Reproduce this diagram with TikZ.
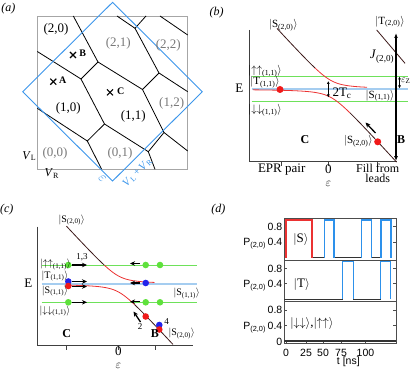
\documentclass[tikz,border=0pt]{standalone}
\usepackage{fontspec}
\setmainfont{Liberation Serif}
\newfontfamily\plotfont{Liberation Sans}
\usetikzlibrary{arrows.meta,calc}
\definecolor{DiagBlue}{RGB}{60,150,235}
\definecolor{LevelGreen}{RGB}{110,225,90}
\definecolor{LevelBlue}{RGB}{165,205,240}
\definecolor{CurveRed}{RGB}{235,50,50}
\definecolor{DotRed}{RGB}{240,25,25}
\definecolor{DotBlue}{RGB}{35,35,235}
\definecolor{DotGreen}{RGB}{95,225,60}
\definecolor{LineDark}{RGB}{60,25,25}
\definecolor{StateGray}{RGB}{120,120,120}
\definecolor{PulseBlue}{RGB}{45,145,235}
\newcommand{\kt}[2]{$|$#1\textsubscript{(#2)}$\rangle$}
\newcommand{\xmark}[2]{%
    \draw[line width=1.1pt] ({#1-3},{#2-3})--({#1+3},{#2+3});
    \draw[line width=1.1pt] ({#1-3},{#2+3})--({#1+3},{#2-3});
}
\newcommand{\levelset}[5]{%
    \draw[LevelGreen,line width=0.8pt] (#1,#3)--(#2,#3);
    \draw[LevelGreen,line width=0.8pt] (#1,#5)--(#2,#5);
    \draw[LevelBlue,line width=2.4pt] (#1,#4)--(#2,#4);
}

\begin{document}
\begin{tikzpicture}[x=1pt,y=-1pt,
    declare function={
        bup(\x)=0.55*\x-sqrt((0.55*\x)^2+72.25);
        blo(\x)=0.55*\x+sqrt((0.55*\x)^2+72.25);
        cup(\x)=0.545*\x-sqrt((0.545*\x)^2+64);
        clo(\x)=0.545*\x+sqrt((0.545*\x)^2+64);},
    panel/.style={font=\fontsize{12}{14}\selectfont\itshape,inner sep=0pt},
    cell/.style={font=\fontsize{13}{15}\selectfont,inner sep=0pt},
    ghost/.style={cell,text=StateGray},
    ket/.style={font=\fontsize{11}{13}\selectfont,inner sep=0pt},
    smallket/.style={font=\fontsize{10}{12}\selectfont,inner sep=0pt},
    ptlabel/.style={font=\fontsize{12}{14}\selectfont\bfseries,inner sep=0pt},
    tick/.style={font=\plotfont\fontsize{10.5}{12}\selectfont,inner sep=0pt},
    comb/.style={line width=0.8pt},
    axis/.style={line width=0.9pt,black!75},
    curve/.style={CurveRed,line width=0.8pt},
    diab/.style={LineDark,line width=0.8pt},
    push/.style={-{Stealth[length=5pt,width=4.5pt]},line width=1.3pt},
    pulse/.style={PulseBlue,line width=1.4pt},
    lowtrace/.style={black!80,line width=1.4pt}]
\useasboundingbox (0,0) rectangle (415,374);

% (a) charge stability diagram
\node[panel] (tagA) at (8.3,8.5) {(a)};
\draw[black!35,line width=0.9pt] (37.3,16) rectangle (187.7,169.3);
\coordinate (t1) at (135,28.3);
\coordinate (v1) at (98,62);
\coordinate (v2) at (81,79);
\coordinate (v3) at (142.5,89.5);
\coordinate (v4) at (159,73);
\coordinate (v5) at (164,132.5);
\coordinate (v6) at (148.3,151.7);
\coordinate (v7) at (104.5,124);
\coordinate (v8) at (87.3,141);
\draw[comb] (117,16)--(t1)--(146,16);
\draw[comb] (t1)--(v4)--(187.7,91.7);
\draw[comb] (73.3,16)--(v1)--(v3)--(v4);
\draw[comb] (37.3,51.5)--(v2)--(v1);
\draw[comb] (v2)--(v7)--(v6)--(v5)--(v3);
\draw[comb] (v5)--(187.7,151);
\draw[comb] (v6)--(155,169.3);
\draw[comb] (v7)--(v8)--(37.3,108.3);
\draw[comb] (v8)--(101.7,169.3);
\draw[comb] (160,16)--(187.7,35);
\draw[DiagBlue,line width=0.9pt] (112.6,2.3)--(202.3,91.7)--(112.6,181)--(22.7,91.7)--cycle;
\node[cell] (n20) at (56,29.3) {(2,0)};
\node[ghost] (n21) at (118.3,43.3) {(2,1)};
\node[ghost] (n22) at (168.3,45) {(2,2)};
\node[cell] (n10) at (68.3,108.3) {(1,0)};
\node[cell] (n11) at (133.3,116.7) {(1,1)};
\node[ghost] (n12) at (171.7,103.3) {(1,2)};
\node[ghost] (n00) at (55,153.3) {(0,0)};
\node[ghost] (n01) at (120,153.3) {(0,1)};
\xmark{73}{55}
\xmark{53.3}{81.7}
\xmark{110}{92.3}
\node[ptlabel,font=\fontsize{10}{12}\selectfont\bfseries] (pB) at (82.7,53.5) {B};
\node[ptlabel,font=\fontsize{10}{12}\selectfont\bfseries] (pA) at (62.7,80.2) {A};
\node[ptlabel,font=\fontsize{10}{12}\selectfont\bfseries] (pC) at (120.7,91) {C};
\node[cell,font=\fontsize{12}{14}\selectfont] (vl) at (29.3,156) {\textit{V}\textsubscript{L}};
\node[cell,font=\fontsize{12}{14}\selectfont] (vr) at (51.7,173.3) {\textit{V}\textsubscript{R}};
\node[cell,text=DiagBlue,rotate=-45,font=\fontsize{14}{15}\selectfont] (eps) at (102.5,178.5) {$\varepsilon$};
\node[cell,text=DiagBlue,rotate=45,font=\fontsize{11}{13}\selectfont] (vsum) at (137.5,172.5) {\textit{V}\textsubscript{L}\,+\,\textit{V}\textsubscript{R}};

% (b) energy levels
\node[panel] (tagB) at (216.7,13) {(b)};
\levelset{251.7}{408.3}{76}{89}{101}
\draw[axis] (249.3,30)--(249.3,161.7)--(396.7,161.7);
\foreach \tx in {281.7,328.3,377.7}
    \draw[axis] (\tx,161.7)--(\tx,166.5);
\draw[diab] plot[domain=-54:-16,samples=30] ({331+\x},{89+bup(\x)});
\draw[curve] plot[domain=-16:36,samples=50] ({331+\x},{89+bup(\x)});
\draw[curve] plot[domain=-78:19,samples=60] ({331+\x},{89+blo(\x)});
\draw[diab] plot[domain=19:65.5,samples=30] ({331+\x},{89+blo(\x)});
\draw[diab] (376.7,30)--(405,63.3);
\draw[{Latex[length=5pt]}-{Latex[length=5pt]},line width=1.4pt] (396,161.2)--(396,33);
\draw[{Latex[length=3pt,width=3pt]}-{Latex[length=3pt,width=3pt]},line width=0.6pt] (399.5,76.5)--(399.5,88.5);
\draw[{Latex[length=3pt,width=3pt]}-{Latex[length=3pt,width=3pt]},line width=0.6pt] (328.3,81)--(328.3,97.5);
\fill[DotRed] (280,89.5) circle (3.5pt);
\fill[DotRed] (377.7,141.8) circle (3.5pt);
\draw[push] (375.5,133)--(365.5,122.5);
\node[ket] (bS20) at (283.3,25) {\kt{S}{2,0}};
\node[ket] (bT20) at (390,21.7) {\kt{T}{2,0}};
\node[cell] (bJ) at (382,56.7) {\textit{J}\textsubscript{(2,0)}};
\node[cell,font=\fontsize{10}{12}\selectfont] (bEz) at (405.8,81) {$\varepsilon$\textsubscript{Z}};
\node[ket] (bUU) at (265,71) {\kt{$\uparrow\uparrow$}{1,1}};
\node[ket] (bT11) at (265,82.3) {\kt{T}{1,1}};
\node[ket] (bDD) at (265,110) {\kt{$\downarrow\downarrow$}{1,1}};
\node[ket] (bS11) at (380,95.7) {\kt{S}{1,1}};
\node[ket] (bS20b) at (358.3,141) {\kt{S}{2,0}};
\node[cell] (bTc) at (342,93) {2T\textsubscript{c}};
\node[cell] (bE) at (239.3,88.3) {E};
\node[ptlabel] (bC) at (305,140) {C};
\node[ptlabel] (bB) at (401,140) {B};
\node[cell] (bEPR) at (281.7,169.5) {EPR pair};
\node[cell] (bZero) at (328.3,169.5) {0};
\node[cell,font=\fontsize{12}{14}\selectfont] (bFill) at (377.7,168.8) {Fill from};
\node[cell,font=\fontsize{12}{14}\selectfont] (bLeads) at (377.7,178.3) {leads};
\node[cell] (bEps) at (328.3,184) {$\varepsilon$};

% (c) pulse sequence on the levels
\node[panel] (tagC) at (6.7,210) {(c)};
\levelset{41.7}{196.7}{265}{284}{302.3}
\draw[axis] (37.7,226.7)--(37.7,345)--(193.3,345);
\foreach \tx in {66.7,118.3,155}
    \draw[axis] (\tx,345)--(\tx,349.5);
\draw[diab] plot[domain=-52:-14,samples=30] ({118.5+\x},{284+cup(\x)});
\draw[curve] plot[domain=-14:36,samples=50] ({118.5+\x},{284+cup(\x)});
\draw[curve] plot[domain=-51:16,samples=50] ({118.5+\x},{284+clo(\x)});
\draw[diab] plot[domain=16:54.5,samples=30] ({118.5+\x},{284+clo(\x)});
\foreach \gx in {68.3,145.7,160}{
    \fill[DotGreen] (\gx,265) circle (3.3pt);
    \fill[DotGreen] (\gx,302.3) circle (3.3pt);
}
\fill[DotBlue] (68.3,281.5) circle (3.3pt);
\fill[DotRed] (68.3,286) circle (3.3pt);
\fill[DotBlue] (145.7,283) circle (3.3pt);
\fill[DotRed] (145.7,316.5) circle (3.3pt);
\fill[DotBlue] (159.3,325) circle (3.3pt);
\fill[DotRed] (159.3,329.5) circle (3.3pt);
\foreach \ay in {265,281.5,286.5,302.3}
    \draw[push] (72,\ay)--(87,\ay);
\foreach \ay in {263.5,283,301.7}
    \draw[push] (140,\ay)--(130,\ay);
\draw[push] (140.5,322)--(133.5,311.5);
\node[smallket] (cS20) at (71.7,220) {\kt{S}{2,0}};
\node[smallket] (cUU) at (55.5,264.5) {\kt{$\uparrow\uparrow$}{1,1}};
\node[smallket] (cT11) at (55,276) {\kt{T}{1,1}};
\node[smallket] (cS11) at (55,291) {\kt{S}{1,1}};
\node[smallket] (cDD) at (55,311) {\kt{$\downarrow\downarrow$}{1,1}};
\node[smallket] (cS11r) at (186.7,293.3) {\kt{S}{1,1}};
\node[smallket] (cS20r) at (181.7,333.3) {\kt{S}{2,0}};
\node[smallket,font=\fontsize{9}{10}\selectfont] (cOne) at (82,257) {1,3};
\node[smallket,font=\fontsize{9}{10}\selectfont] (cTwo) at (140,326.5) {2};
\node[smallket,font=\fontsize{9}{10}\selectfont] (cFour) at (166.7,321.7) {4};
\node[cell] (cE) at (28.3,283.3) {E};
\node[ptlabel] (cC) at (66.7,333.5) {C};
\node[ptlabel] (cB) at (155,333.5) {B};
\node[cell] (cZero) at (118.3,351) {0};
\node[cell] (cEps) at (118.3,366) {$\varepsilon$};

% (d) occupation traces
\node[panel] (tagD) at (218.3,210) {(d)};
\foreach \fy in {0,41.7,83.4}{
    \draw[black!70,line width=0.8pt] (284.3,{218.3+\fy}) rectangle (396,{260+\fy});
    \foreach \vy in {226.5,242}{
        \draw[black!70,line width=0.6pt] (284.3,{\vy+\fy})--(287,{\vy+\fy});
        \draw[black!70,line width=0.6pt] (396,{\vy+\fy})--(393.3,{\vy+\fy});
    }
    \node[tick,anchor=base east] at (282.5,{230.5+\fy}) {0.8};
    \node[tick,anchor=base east] at (282.5,{246+\fy}) {P\textsubscript{(2,0)}\,0.4};
}
\node[tick,anchor=base east] (dZero) at (282.5,345) {0};
\foreach \tx/\tl in {286/0,306/25,323/50,341/75,365.5/100}{
    \draw[black!70,line width=0.6pt] (\tx,342.7)--(\tx,340);
    \node[tick] at (\tx,352.7) {\tl};
}
\node[tick] (dTime) at (348.3,361.5) {t [ns]};
\draw[lowtrace] (311.7,257.5)--(324.3,257.5) (334,257.5)--(361.7,257.5) (371.7,257.5)--(381,257.5);
\foreach \pa/\pb in {324.3/334,361.7/371.7,381/391}
    \draw[pulse] (\pa,257.5)--(\pa,220)--(\pb,220)--(\pb,257.5);
\draw[CurveRed,line width=1.6pt] (286,257.5)--(286,220)--(311.7,220)--(311.7,257.5);
\draw[lowtrace] (284.3,299.2)--(342.7,299.2) (353.3,299.2)--(380.7,299.2);
\foreach \pa/\pb in {342.7/353.3,380.7/390.7}
    \draw[pulse] (\pa,299.2)--(\pa,261.7)--(\pb,261.7)--(\pb,299.2);
\draw[lowtrace] (284.3,341)--(396,341);
\node[cell] (dS) at (301,240) {$|$S$\rangle$};
\node[cell] (dT) at (301.7,284.3) {$|$T$\rangle$};
\node[cell] (dUD) at (312,323.3) {$|{\downarrow\downarrow}\rangle$,$|{\uparrow\uparrow}\rangle$};
\end{tikzpicture}
\end{document}
